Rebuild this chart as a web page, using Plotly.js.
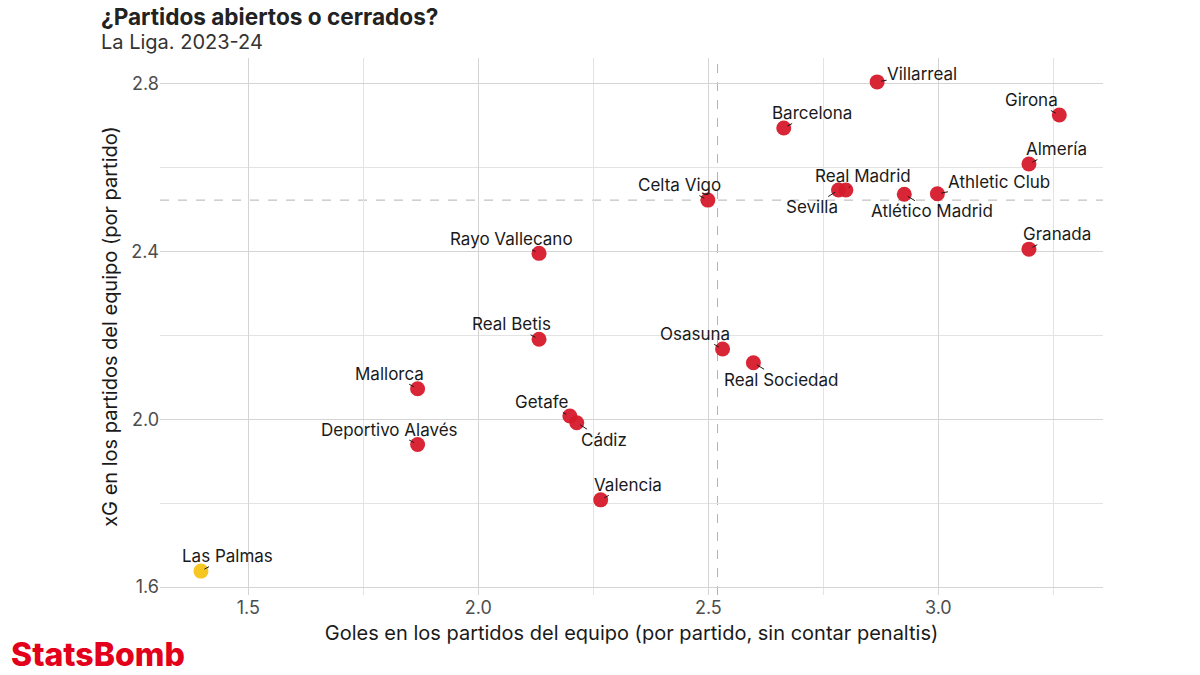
<!DOCTYPE html>
<html>
<head>
<meta charset="utf-8">
<script src="https://cdn.plot.ly/plotly-3.0.1.min.js"></script>
<style>
  html, body { margin: 0; padding: 0; background: #fff; }
  #chart { width: 1200px; height: 675px; }
</style>
</head>
<body>
<div id="chart"></div>
<script>
/* ¿Partidos abiertos o cerrados? — La Liga 2023-24
   Goals vs xG in each team's matches, per match (non-penalty). */

// ---- data ----
const teams = [
  "Las Palmas", "Deportivo Alavés", "Mallorca", "Getafe", "Cádiz",
  "Valencia", "Real Betis", "Rayo Vallecano", "Osasuna", "Real Sociedad",
  "Celta Vigo", "Barcelona", "Villarreal", "Sevilla", "Real Madrid",
  "Atlético Madrid", "Athletic Club", "Almería", "Granada", "Girona",
];
const goals = [
  1.397, 1.868, 1.868, 2.199, 2.214,
  2.266, 2.132, 2.132, 2.531, 2.598,
  2.499, 2.664, 2.867, 2.783, 2.799,
  2.926, 2.998, 3.197, 3.197, 3.263,
];
const xg = [
  1.638, 1.940, 2.073, 2.008, 1.992,
  1.808, 2.191, 2.396, 2.168, 2.135,
  2.523, 2.695, 2.805, 2.547, 2.547,
  2.537, 2.538, 2.609, 2.406, 2.726,
];
const highlight = "Las Palmas";

// league averages (dashed reference lines)
const avgGoals = 2.52;
const avgXg = 2.523;

const xTicks = [1.5, 2.0, 2.5, 3.0];
const yTicks = [1.6, 2.0, 2.4, 2.8];

// ---- styling ----
const RED = "#d61a2b";
const YELLOW = "#f5c414";
const INK = "#1a1a1a";
const FONT = "Inter, 'Noto Sans', sans-serif";

// label placement (px offset of the text centre from the point)
const labelOffset = {
  "Las Palmas":       [27, -15],
  "Deportivo Alavés": [-28, -15],
  "Mallorca":         [-28, -15],
  "Getafe":           [-28, -14],
  "Cádiz":            [27, 17],
  "Valencia":         [27, -15],
  "Real Betis":       [-28, -15],
  "Rayo Vallecano":   [-28, -14],
  "Osasuna":          [-28, -15],
  "Real Sociedad":    [28, 17],
  "Celta Vigo":       [-28, -15],
  "Barcelona":        [28, -15],
  "Villarreal":       [45, -8],
  "Sevilla":          [-27, 17],
  "Real Madrid":      [17, -14],
  "Atlético Madrid":  [28, 17],
  "Athletic Club":    [62, -12],
  "Almería":          [28, -15],
  "Granada":          [28, -15],
  "Girona":           [-28, -15],
};

const points = {
  type: "scatter",
  mode: "markers",
  x: goals,
  y: xg,
  text: teams,
  marker: {
    size: 15,
    color: teams.map(t => t === highlight ? YELLOW : RED),
    opacity: 0.95,
    line: { width: 0 },
  },
  hovertemplate: "<b>%{text}</b><br>Goles: %{x:.2f}<br>xG: %{y:.2f}<extra></extra>",
  cliponaxis: false,
};

const labels = teams.map((t, i) => ({
  x: goals[i],
  y: xg[i],
  xref: "x", yref: "y",
  text: t,
  showarrow: true,
  arrowhead: 0,
  arrowwidth: 1,
  arrowcolor: INK,
  standoff: 4,
  borderpad: 0,
  ax: labelOffset[t][0],
  ay: labelOffset[t][1],
  font: { family: FONT, size: 17, color: INK },
}));

const paperY = py => (595 - py) / 537;
const paperX = px => (px - 160) / 943;

const textNotes = [
  {
    text: "¿Partidos abiertos o cerrados?",
    xref: "paper", yref: "paper",
    x: paperX(99), y: paperY(17),
    xanchor: "left", yanchor: "middle",
    showarrow: false,
    font: { family: FONT, size: 22.6, color: "#222", weight: 700 },
  },
  {
    text: "La Liga. 2023-24",
    xref: "paper", yref: "paper",
    x: paperX(99), y: paperY(42),
    xanchor: "left", yanchor: "middle",
    showarrow: false,
    font: { family: FONT, size: 20, color: "#333" },
  },
  {
    text: "StatsBomb",
    xref: "paper", yref: "paper",
    x: paperX(9), y: paperY(654),
    xanchor: "left", yanchor: "middle",
    showarrow: false,
    font: { family: FONT, size: 32, color: "#e2001a", weight: 800 },
  },
];

const refLines = [
  {
    type: "line", xref: "x", yref: "paper",
    x0: avgGoals, x1: avgGoals, y0: 0, y1: 1,
    line: { color: "#b3b3b3", width: 1, dash: "dash" },
    layer: "below",
  },
  {
    type: "line", xref: "paper", yref: "y",
    x0: 0, x1: 1, y0: avgXg, y1: avgXg,
    line: { color: "#b3b3b3", width: 1, dash: "dash" },
    layer: "below",
  },
];

const axisCommon = {
  showline: false,
  zeroline: false,
  ticks: "",
  gridcolor: "#d4d4d4",
  gridwidth: 1,
  tickfont: { family: FONT, size: 18, color: "#4d4d4d" },
};

const layout = {
  width: 1200,
  height: 675,
  margin: { l: 160, r: 97, t: 58, b: 80 },
  paper_bgcolor: "#fff",
  plot_bgcolor: "#fff",
  showlegend: false,
  xaxis: {
    ...axisCommon,
    range: [1.308, 3.358],
    tickmode: "array",
    tickvals: xTicks,
    ticktext: xTicks.map(v => v.toFixed(1)),
    minor: { dtick: 0.25, tick0: 0, showgrid: true, gridcolor: "#e3e3e3", gridwidth: 1 },
    title: {
      text: "Goles en los partidos del equipo (por partido, sin contar penaltis)",
      font: { family: FONT, size: 20, color: INK },
      standoff: 8,
    },
  },
  yaxis: {
    ...axisCommon,
    range: [1.581, 2.862],
    tickmode: "array",
    tickvals: yTicks,
    ticktext: yTicks.map(v => v.toFixed(1)),
    minor: { dtick: 0.2, tick0: 0, showgrid: true, gridcolor: "#e3e3e3", gridwidth: 1 },
    title: {
      text: "xG en los partidos del equipo (por partido)",
      font: { family: FONT, size: 20, color: INK },
      standoff: 8,
    },
  },
  shapes: refLines,
  annotations: [...labels, ...textNotes],
};

Plotly.newPlot("chart", [points], layout, { displayModeBar: false, responsive: false });
</script>
</body>
</html>
